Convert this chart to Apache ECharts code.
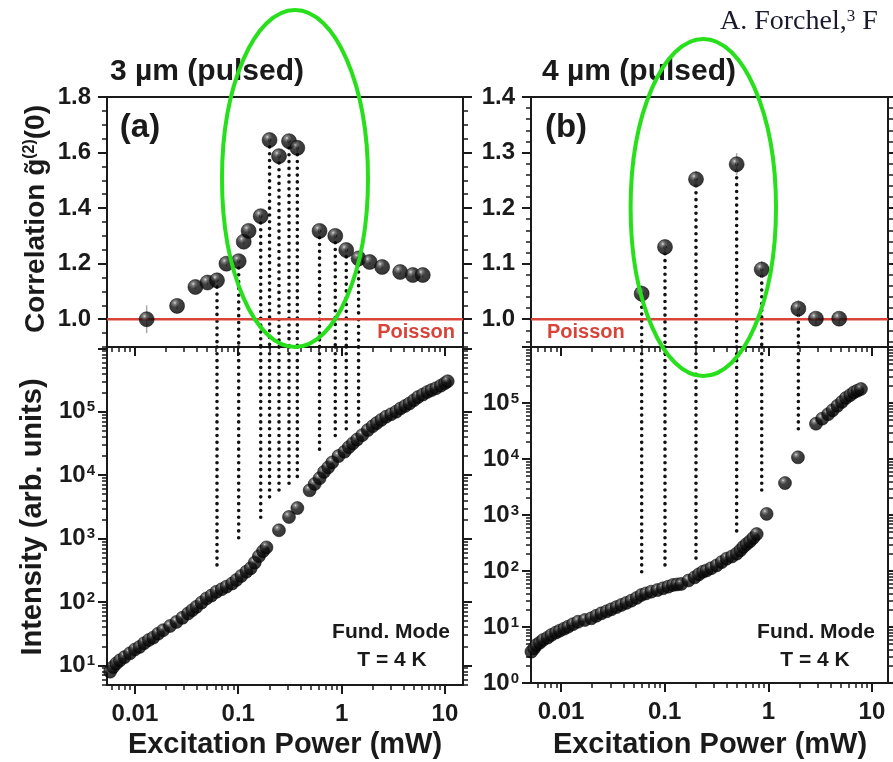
<!DOCTYPE html>
<html><head><meta charset="utf-8">
<script src="https://cdn.jsdelivr.net/npm/echarts@6/dist/echarts.min.js"></script>
<style>html,body{margin:0;padding:0;background:#fff}#c{width:893px;height:762px}</style>
</head><body><div id="c"></div><script>
// ---------------- data ----------------
// (a) 3 µm pulsed : correlation g2(0) vs excitation power (mW)
const gPowerA = [0.0130,0.0256,0.0385,0.0504,0.0623,0.0769,0.101,0.113,0.126,0.165,0.201,0.248,0.310,0.373,0.612,0.869,1.11,1.46,1.87,2.47,3.69,4.89,6.11];
const gValueA = [1.0,1.048,1.116,1.132,1.14,1.20,1.209,1.279,1.318,1.371,1.645,1.587,1.641,1.617,1.318,1.30,1.249,1.219,1.206,1.188,1.17,1.159,1.159];
const gErrA   = [0.05,0.012,0.01,0.01,0.01,0.01,0.01,0.01,0.01,0.012,0.015,0.015,0.015,0.015,0.012,0.01,0.01,0.01,0.01,0.01,0.01,0.01,0.01];
// dotted guide lines: index of correlation point, end of line in the intensity panel (log10 intensity)
const dropIdxA = [4,6,9,10,11,12,13,14,15,16,17];
const dropEndLogIA = [2.58,2.93,3.26,3.56,3.72,3.81,3.97,4.32,4.55,4.71,4.82];
// (a) intensity: [log10 power (mW), log10 intensity]
const intensityA = [[-2.273,0.815],[-2.24,0.90],[-2.21,0.973],[-2.18,1.03],[-2.145,1.079],[-2.10,1.13],[-2.048,1.19],[-2.00,1.25],[-1.955,1.29],[-1.91,1.35],[-1.865,1.40],[-1.823,1.437],[-1.775,1.50],[-1.727,1.553],[-1.66,1.62],[-1.597,1.685],[-1.54,1.75],[-1.485,1.818],[-1.445,1.87],[-1.404,1.922],[-1.355,1.99],[-1.307,2.055],[-1.26,2.10],[-1.211,2.16],[-1.16,2.20],[-1.114,2.24],[-1.06,2.29],[-1.017,2.346],[-0.97,2.41],[-0.921,2.477],[-0.88,2.53],[-0.84,2.62],[-0.80,2.72],[-0.76,2.80],[-0.727,2.86],[-0.606,3.13],[-0.509,3.34],[-0.428,3.48],[-0.309,3.76],[-0.26,3.86],[-0.213,3.95],[-0.17,4.05],[-0.13,4.12],[-0.09,4.20],[-0.03,4.30],[0.029,4.37],[0.07,4.44],[0.109,4.50],[0.15,4.56],[0.20,4.63],[0.254,4.71],[0.30,4.77],[0.34,4.82],[0.384,4.87],[0.43,4.92],[0.48,4.96],[0.528,5.0],[0.57,5.05],[0.615,5.09],[0.657,5.13],[0.70,5.18],[0.74,5.23],[0.786,5.27],[0.83,5.31],[0.87,5.34],[0.915,5.37],[0.96,5.41],[1.0,5.45],[1.027,5.48]];

// (b) 4 µm pulsed
const gPowerB = [0.060,0.1007,0.2005,0.495,0.864,1.95,2.88,4.83];
const gValueB = [1.046,1.130,1.252,1.279,1.0895,1.019,1.001,1.001];
const gErrB   = [0.015,0.012,0.015,0.02,0.015,0.015,0.01,0.01];
const dropIdxB = [0,1,2,3,4,5];
const dropEndLogIB = [1.90,2.08,2.23,2.70,3.33,4.43];
const intensityB = [[-2.286,0.559],[-2.26,0.62],[-2.238,0.677],[-2.205,0.72],[-2.174,0.768],[-2.13,0.81],[-2.094,0.857],[-2.05,0.90],[-2.013,0.934],[-1.97,0.97],[-1.932,1.005],[-1.885,1.05],[-1.836,1.094],[-1.77,1.125],[-1.708,1.155],[-1.66,1.20],[-1.611,1.244],[-1.56,1.28],[-1.515,1.316],[-1.465,1.355],[-1.418,1.393],[-1.37,1.43],[-1.322,1.470],[-1.27,1.52],[-1.225,1.571],[-1.18,1.60],[-1.129,1.631],[-1.07,1.66],[-1.016,1.691],[-0.965,1.72],[-0.920,1.750],[-0.88,1.76],[-0.840,1.768],[-0.77,1.83],[-0.710,1.887],[-0.67,1.94],[-0.630,1.987],[-0.595,2.01],[-0.55,2.05],[-0.498,2.10],[-0.45,2.16],[-0.402,2.22],[-0.35,2.26],[-0.305,2.31],[-0.27,2.37],[-0.241,2.43],[-0.21,2.48],[-0.177,2.53],[-0.145,2.59],[-0.112,2.66],[-0.016,3.02],[0.161,3.57],[0.286,4.03],[0.460,4.63],[0.52,4.72],[0.578,4.80],[0.62,4.87],[0.667,4.95],[0.71,5.02],[0.749,5.09],[0.79,5.14],[0.826,5.19],[0.86,5.22],[0.894,5.25]];

// tick values
const powerTickExp = [-2,-1,0,1];          // 0.01, 0.1, 1, 10 mW
const gTicksA = [1.0,1.2,1.4,1.6,1.8];
const gTicksB = [1.0,1.1,1.2,1.3,1.4];
const intTickExpA = [1,2,3,4,5];
const intTickExpB = [0,1,2,3,4,5];

// ---------------- helpers ----------------
const INK = '#1a1a1a', RED = '#d9443a', GREEN = '#27e01b';
const FONT = '"Liberation Sans", Arial, Helvetica, sans-serif';
function logMinor(lo, hi){ const o=[]; for(let e=-4;e<=7;e++) for(let k=2;k<=9;k++){ const v=e+Math.log10(k); if(v>lo && v<hi) o.push(v);} return o; }
function logMajor(lo, hi){ const o=[]; for(let e=-4;e<=7;e++) if(e>=lo-1e-9 && e<=hi+1e-9) o.push(e); return o; }
function linMinor(lo, hi, step, major){ const o=[]; const n=Math.round((hi-lo)/step); for(let i=0;i<=n;i++){ const v=+(lo+i*step).toFixed(4); if(!major.some(m=>Math.abs(m-v)<1e-6)) o.push(v);} return o; }
const fmtPow = v => { const p=Math.round(v); return p<0 ? Math.pow(10,p).toFixed(-p) : String(Math.pow(10,p)); };
const fmtExp = v => '{b|10}{s|' + Math.round(v) + '}';
const expRich = { b:{fontSize:24,fontWeight:'bold',fontFamily:FONT,color:INK}, s:{fontSize:15,fontWeight:'bold',fontFamily:FONT,color:INK,verticalAlign:'top',padding:[0,0,0,1]} };
const sphere = {type:'radial', x:0.36, y:0.3, r:0.75, colorStops:[{offset:0,color:'#d8d8d8'},{offset:0.13,color:'#6a6a6a'},{offset:0.4,color:'#121212'},{offset:1,color:'#000'}]};

const grids=[], xAxes=[], yAxes=[];
function addPanel(c){
  const gi = grids.length;
  grids.push({left:c.left, top:c.top, width:c.width, height:c.height, containLabel:false, outerBoundsMode:'none'});
  const line = {show:true, onZero:false, lineStyle:{color:INK, width:2}};
  const noLine = {show:false, onZero:false};
  const base = {gridIndex:gi, type:'value', splitLine:{show:false}, axisPointer:{show:false}};
  const xb = Object.assign({}, base, {min:c.xMin, max:c.xMax});
  const xi = xAxes.length;
  xAxes.push(Object.assign({}, xb, {position:'bottom', axisLine:line,
    axisTick:{show:true, inside:false, length:9, lineStyle:{color:INK,width:2}, customValues:c.xMajor},
    axisLabel: c.xLabels ? {show:true, customValues:c.xMajor, formatter:fmtPow, margin:17, color:INK, fontSize:24, fontWeight:'bold', fontFamily:FONT} : {show:false}}));
  xAxes.push(Object.assign({}, xb, {position:'bottom', axisLine:noLine, axisTick:{show:true, inside:false, length:5, lineStyle:{color:INK,width:1.5}, customValues:c.xMinor}, axisLabel:{show:false}}));
  xAxes.push(Object.assign({}, xb, {position:'top', axisLine:line, axisTick:{show:false}, axisLabel:{show:false}}));
  const yb = Object.assign({}, base, {min:c.yMin, max:c.yMax});
  const yi = yAxes.length;
  yAxes.push(Object.assign({}, yb, {position:'left', axisLine:line,
    axisTick:{show:true, inside:false, length:9, lineStyle:{color:INK,width:2}, customValues:c.yMajor},
    axisLabel:{show:true, customValues:c.yLabels, formatter:c.yFmt, margin:c.yMargin, color:INK, fontSize:24, fontWeight:'bold', fontFamily:FONT, rich:c.yRich}}));
  yAxes.push(Object.assign({}, yb, {position:'left', axisLine:noLine, axisTick:{show:true, inside:false, length:5, lineStyle:{color:INK,width:1.5}, customValues:c.yMinor}, axisLabel:{show:false}}));
  yAxes.push(Object.assign({}, yb, {position:'right', axisLine:line, axisTick:{show:true, inside:false, length:9, lineStyle:{color:INK,width:2}, customValues:c.yMajor}, axisLabel:{show:false}}));
  yAxes.push(Object.assign({}, yb, {position:'right', axisLine:noLine, axisTick:{show:true, inside:false, length:5, lineStyle:{color:INK,width:1.5}, customValues:c.yMinor}, axisLabel:{show:false}}));
  return {xi, yi, c};
}

const xA = [-2.27, 1.175], xB = [-2.29, 1.155];
const pTA = addPanel({left:107, top:97, width:356, height:250, xMin:xA[0], xMax:xA[1], xMajor:powerTickExp, xMinor:logMinor(xA[0],xA[1]), xLabels:false,
  yMin:0.9, yMax:1.8, yMajor:gTicksA, yLabels:gTicksA, yMinor:linMinor(0.9,1.8,0.05,gTicksA), yFmt:v=>v.toFixed(1), yMargin:16});
const pBA = addPanel({left:107, top:347, width:356, height:338, xMin:xA[0], xMax:xA[1], xMajor:powerTickExp, xMinor:logMinor(xA[0],xA[1]), xLabels:true,
  yMin:0.69, yMax:6.02, yMajor:logMajor(0.69,6.02), yLabels:intTickExpA, yMinor:logMinor(0.69,6.02), yFmt:fmtExp, yRich:expRich, yMargin:12});
const pTB = addPanel({left:531, top:97, width:357, height:250, xMin:xB[0], xMax:xB[1], xMajor:powerTickExp, xMinor:logMinor(xB[0],xB[1]), xLabels:false,
  yMin:0.95, yMax:1.4, yMajor:gTicksB, yLabels:gTicksB, yMinor:linMinor(0.96,1.4,0.02,gTicksB), yFmt:v=>v.toFixed(1), yMargin:16});
const pBB = addPanel({left:531, top:347, width:357, height:336, xMin:xB[0], xMax:xB[1], xMajor:powerTickExp, xMinor:logMinor(xB[0],xB[1]), xLabels:true,
  yMin:0, yMax:6, yMajor:logMajor(0,6), yLabels:intTickExpB, yMinor:logMinor(0,6), yFmt:fmtExp, yRich:expRich, yMargin:12});

function dotted(p, data){
  return {type:'custom', xAxisIndex:p.xi, yAxisIndex:p.yi, z:1, silent:true, data:data, encode:{x:0, y:[1,2]},
    renderItem:(params, api)=>{ const a=api.coord([api.value(0),api.value(1)]), b=api.coord([api.value(0),api.value(2)]);
      return {type:'line', shape:{x1:a[0],y1:a[1],x2:b[0],y2:b[1]}, style:{stroke:'#111', lineWidth:3.6, lineDash:[0.01,6.8], lineCap:'round'}}; }};
}
function errBars(p, xs, ys, es){
  return {type:'custom', xAxisIndex:p.xi, yAxisIndex:p.yi, z:2, silent:true, encode:{x:0,y:[1,2]},
    data: xs.map((x,i)=>[Math.log10(x), ys[i]-es[i], ys[i]+es[i]]),
    renderItem:(params, api)=>{ const a=api.coord([api.value(0),api.value(1)]), b=api.coord([api.value(0),api.value(2)]);
      return {type:'line', shape:{x1:a[0],y1:a[1],x2:b[0],y2:b[1]}, style:{stroke:'#aaaaaa', lineWidth:1.5}}; }};
}
function scatter(p, data, size){
  return {type:'scatter', xAxisIndex:p.xi, yAxisIndex:p.yi, z:5, data:data, symbol:'circle', symbolSize:size,
    itemStyle:{color:sphere, borderColor:'#000', borderWidth:0.6}, silent:true};
}
function poisson(p){
  return {type:'line', xAxisIndex:p.xi, yAxisIndex:p.yi, z:3, symbol:'none', silent:true,
    data:[[p.c.xMin,1],[p.c.xMax,1]], lineStyle:{color:RED, width:2.4}};
}

const series = [
  poisson(pTA), poisson(pTB),
  dotted(pTA, dropIdxA.map(i=>[Math.log10(gPowerA[i]), gValueA[i], 0.9])),
  dotted(pBA, dropIdxA.map((i,k)=>[Math.log10(gPowerA[i]), 6.02, dropEndLogIA[k]])),
  dotted(pTB, dropIdxB.map(i=>[Math.log10(gPowerB[i]), gValueB[i], 0.95])),
  dotted(pBB, dropIdxB.map((i,k)=>[Math.log10(gPowerB[i]), 6, dropEndLogIB[k]])),
  errBars(pTA, gPowerA, gValueA, gErrA),
  errBars(pTB, gPowerB, gValueB, gErrB),
  scatter(pTA, gPowerA.map((x,i)=>[Math.log10(x), gValueA[i]]), 15),
  scatter(pTB, gPowerB.map((x,i)=>[Math.log10(x), gValueB[i]]), 15),
  scatter(pBA, intensityA, 13),
  scatter(pBB, intensityB, 13)
];

function txt(x, y, text, font, opts){
  return Object.assign({type:'text', x:x, y:y, z:50, silent:true,
    style:Object.assign({text:text, font:font, fill:INK, align:'center', verticalAlign:'middle', textAlign:'center', textVerticalAlign:'middle'}, (opts&&opts.style)||{})},
    opts && opts.rotation ? {rotation:opts.rotation} : {});
}
const B = s => 'bold ' + s + 'px ' + FONT;
const graphic = [
  txt(207, 72, '3 µm (pulsed)', B(30)),
  txt(639, 72, '4 µm (pulsed)', B(30)),
  txt(140, 128, '(a)', B(33)),
  txt(566, 128, '(b)', B(33)),
  txt(455, 332, 'Poisson', B(20), {style:{fill:RED, align:'right', textAlign:'right'}}),
  txt(547, 332, 'Poisson', B(20), {style:{fill:RED, align:'left', textAlign:'left'}}),
  txt(391, 632, 'Fund. Mode', B(21)),
  txt(392, 660, 'T = 4 K', B(21)),
  txt(816, 632, 'Fund. Mode', B(21)),
  txt(815, 660, 'T = 4 K', B(21)),
  txt(285, 745, 'Excitation Power (mW)', B(29)),
  txt(710, 745, 'Excitation Power (mW)', B(29)),
  txt(33, 517, 'Intensity (arb. units)', B(29), {rotation:Math.PI/2}),
  {type:'text', x:36, y:219, z:50, rotation:Math.PI/2, silent:true,
    style:{text:'{n|Correlation }{g|g\u0303}{s|(2)}{n|(0)}', align:'center', verticalAlign:'middle', textAlign:'center', textVerticalAlign:'middle', font:B(28), fill:INK,
      rich:{n:{font:B(28), fill:INK, color:INK}, g:{font:B(28), fill:INK, color:INK}, s:{font:B(16), fill:INK, color:INK, verticalAlign:'top'}}}},
  {type:'text', x:720, y:22, z:50, silent:true,
    style:{text:'{n|A. Forchel,}{s|3}{n| F}', align:'left', verticalAlign:'middle', textAlign:'left', textVerticalAlign:'middle', font:'28px "Liberation Serif", "Times New Roman", serif', fill:'#1a1a2e',
      rich:{n:{font:'28px "Liberation Serif", "Times New Roman", serif', fill:'#1a1a2e', color:'#1a1a2e'}, s:{font:'17px "Liberation Serif", "Times New Roman", serif', fill:'#1a1a2e', color:'#1a1a2e', verticalAlign:'top'}}}},
  {type:'ellipse', z:100, silent:true, shape:{cx:295, cy:178.5, rx:73, ry:168.5}, style:{fill:'none', stroke:GREEN, lineWidth:4}},
  {type:'ellipse', z:100, silent:true, shape:{cx:703.3, cy:207.5, rx:72.7, ry:168.5}, style:{fill:'none', stroke:GREEN, lineWidth:4}}
];

const chart = echarts.init(document.getElementById('c'), null, {renderer:'canvas'});
chart.setOption({
  animation:false, backgroundColor:'#fff',
  grid:grids, xAxis:xAxes, yAxis:yAxes, series:series, graphic:graphic
});
</script></body></html>
